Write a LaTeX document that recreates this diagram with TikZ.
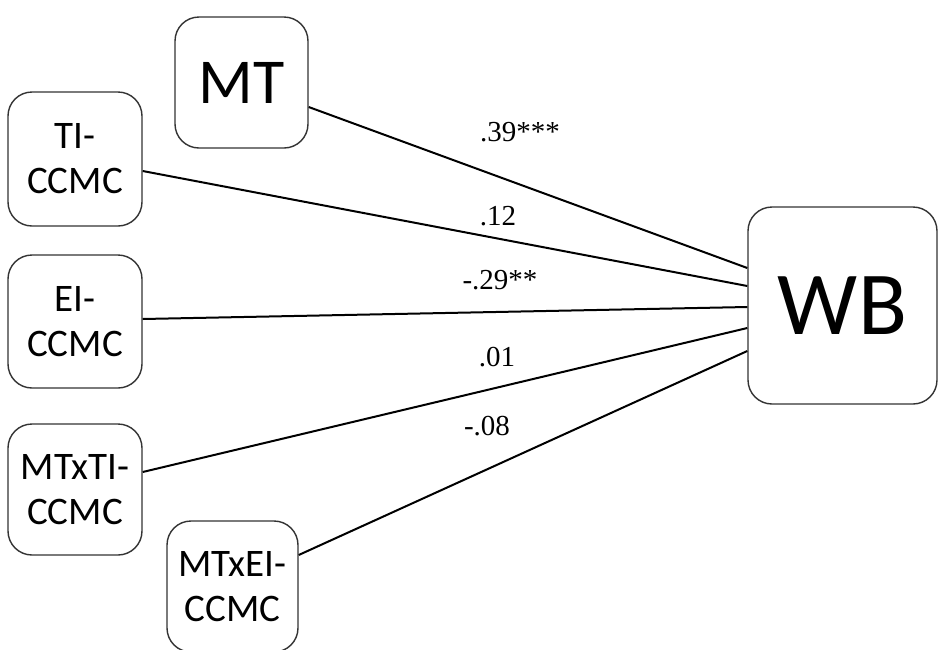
\documentclass[tikz,border=0pt]{standalone}
\usepackage{fontspec}
\setmainfont{Liberation Serif}
\newfontfamily\boxfont{Carlito}
\usepackage{tikz}

\tikzset{
    varbox/.style={draw=black!80, line width=1.4pt, rounded corners=24pt, align=center,
        inner sep=0pt, font=\boxfont\fontsize{39}{45}\selectfont},
    path/.style={line width=2pt},
    coef/.style={font=\fontsize{29}{34}\selectfont}
}

\begin{document}
\begin{tikzpicture}[x=1pt, y=-1pt]
        % Fix the picture size
        \useasboundingbox (0, 0) rectangle (938, 649);

        % Draw the predictor boxes
        \node[varbox, minimum width=133pt, minimum height=131pt,
            font=\boxfont\fontsize{64}{70}\selectfont] (mt) at (241.5, 82.5) {MT};
        \node[varbox, minimum width=134pt, minimum height=134pt] (ti) at (75, 159) {TI-\\CCMC};
        \node[varbox, minimum width=134pt, minimum height=133pt] (ei) at (75, 321.5) {EI-\\CCMC};
        \node[varbox, minimum width=134pt, minimum height=131pt] (mtti) at (75, 489.5) {MTxTI-\\CCMC};
        \node[varbox, minimum width=131pt, minimum height=131pt] (mtei) at (232.5, 586.5) {MTxEI-\\CCMC};

        % Draw the outcome box
        \node[varbox, minimum width=189pt, minimum height=197pt,
            font=\boxfont\fontsize{90}{96}\selectfont] (wb) at (842.5, 305.5) {WB};

        % Draw the paths into the outcome
        \draw[path] ([yshift=-24.5pt]mt.east) -- ([yshift=37.5pt]wb.west);
        \draw[path] ([yshift=-12pt]ti.east) -- ([yshift=19.5pt]wb.west);
        \draw[path] ([yshift=2.5pt]ei.east) -- ([yshift=-1.5pt]wb.west);
        \draw[path] ([yshift=17.5pt]mtti.east) -- ([yshift=-22.5pt]wb.west);
        \draw[path] ([yshift=31.5pt]mtei.east) -- ([yshift=-45.5pt]wb.west);

        % Path coefficients
        \node[coef] (c1) at (520, 132) {.39***};
        \node[coef] (c2) at (498, 216) {.12};
        \node[coef] (c3) at (500, 280) {-.29**};
        \node[coef] (c4) at (497, 357) {.01};
        \node[coef] (c5) at (487, 426) {-.08};
    \end{tikzpicture}
\end{document}
